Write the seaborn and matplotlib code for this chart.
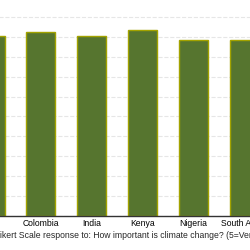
import pandas as pd
import matplotlib
matplotlib.use("Agg")
import matplotlib.pyplot as plt
import seaborn as sns

# Mean Likert score per country
countries = ["Chile", "Colombia", "India", "Kenya", "Nigeria", "South Africa"]
mean_score = [4.52, 4.62, 4.53, 4.67, 4.42, 4.42]

data = pd.DataFrame({"country": countries, "score": mean_score})

sns.set_style("whitegrid")
plt.rcParams['font.family'] = ['Liberation Sans', 'DejaVu Sans']

fig = plt.figure(figsize=(2.5, 2.5), dpi=100)
# axes run past the figure edges, the picture is a crop of a wider chart
ax = fig.add_axes([-0.141, 0.136, 1.219, 0.8756])

sns.barplot(data=data, x="country", y="score", color="#56752f",
            saturation=1, width=0.57, edgecolor="#a3a300", linewidth=1, ax=ax)

ax.set_ylim(0, 5.5)
ax.set_yticks([0, 0.5, 1, 1.5, 2, 2.5, 3, 3.5, 4, 4.5, 5])
ax.set_yticklabels([])
ax.yaxis.grid(True, linestyle="--", color="#e6e6e6", linewidth=0.8)
ax.xaxis.grid(False)
ax.set_axisbelow(True)
for side in ["left", "right", "top"]:
    ax.spines[side].set_visible(False)
ax.spines["bottom"].set_color("#333333")
ax.spines["bottom"].set_linewidth(1)
ax.tick_params(axis="x", length=0, pad=2, labelsize=6.2, colors="black")
ax.tick_params(axis="y", length=0)
ax.set_ylabel("")
ax.set_xlabel("Likert Scale response to: How important is climate change? (5=Very important)",
              fontsize=6.2)
ax.xaxis.set_label_coords(0.595, -0.07)

fig.savefig("out.png", dpi=100)
